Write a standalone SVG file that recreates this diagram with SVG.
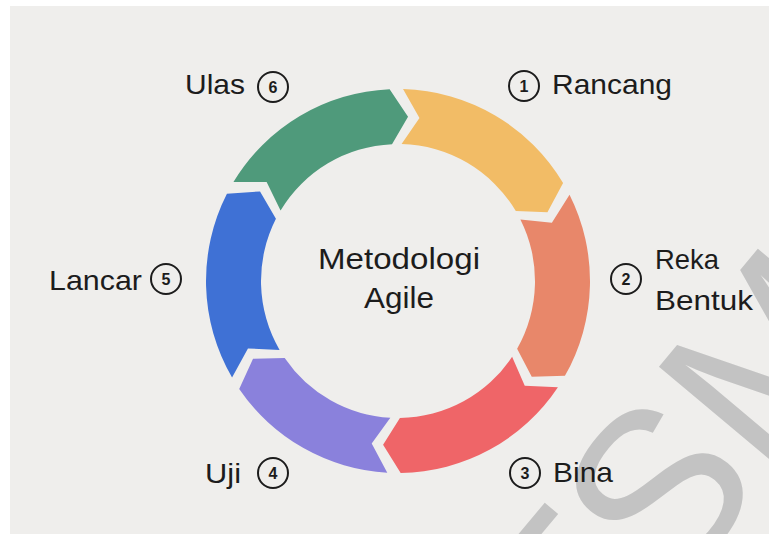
<svg xmlns="http://www.w3.org/2000/svg" width="769" height="534" viewBox="0 0 769 534">
<style>
.lbl{font-family:"Liberation Sans","DejaVu Sans",sans-serif;font-size:28px;fill:#1c1c1c}
.ctr{font-family:"Liberation Sans","DejaVu Sans",sans-serif;font-size:29px;fill:#1c1c1c;text-anchor:middle}
.num{font-family:"Liberation Sans","DejaVu Sans",sans-serif;font-size:16px;font-weight:bold;fill:#1c1c1c;text-anchor:middle}
.badge{fill:none;stroke:#1c1c1c;stroke-width:2}
.wm{font-family:"Liberation Sans","DejaVu Sans",sans-serif;font-size:230px;fill:#c3c3c3}
</style>
<rect x="0" y="0" width="769" height="534" fill="#ffffff"/>
<rect x="10" y="6" width="759" height="528" fill="#efeeec"/>
<g id="watermark">
<text class="wm" transform="translate(579,708) rotate(-50)">TSM</text>
</g>
<g id="connectors"></g>
<g id="seg-rancang">
<path fill="#f2bc66" d="M403.03,89.07 A192,192 0 0 1 563.09,182.98 L547.44,212.26 L515.80,211.06 A137,137 0 0 0 401.59,144.05 L419.47,117.91 Z"/>
</g>
<g id="seg-reka">
<path fill="#e8876a" d="M569.53,194.73 A192,192 0 0 1 564.94,375.84 L531.75,376.76 L517.12,348.67 A137,137 0 0 0 520.39,219.44 L551.88,222.85 Z"/>
</g>
<g id="seg-bina">
<path fill="#ef6568" d="M557.92,387.25 A192,192 0 0 1 400.68,472.98 L383.09,444.82 L399.91,417.99 A137,137 0 0 0 512.11,356.81 L524.75,385.86 Z"/>
</g>
<g id="seg-uji">
<path fill="#8a81dc" d="M387.28,472.70 A192,192 0 0 1 239.20,388.92 L253.03,358.73 L284.69,358.00 A137,137 0 0 0 390.35,417.79 L371.70,443.38 Z"/>
</g>
<g id="seg-lancar">
<path fill="#3f71d5" d="M232.06,377.58 A192,192 0 0 1 226.93,193.83 L260.04,191.41 L275.93,218.80 A137,137 0 0 0 279.60,349.91 L247.96,348.43 Z"/>
</g>
<g id="seg-ulas">
<path fill="#4f9a7b" d="M233.42,182.11 A192,192 0 0 1 389.63,89.18 L408.04,116.81 L392.02,144.13 A137,137 0 0 0 280.57,210.44 L266.62,182.0 Z"/>
</g>
<g id="center">
<text class="ctr" x="399" y="269" textLength="162" lengthAdjust="spacingAndGlyphs">Metodologi</text>
<text class="ctr" x="399" y="308" textLength="70" lengthAdjust="spacingAndGlyphs">Agile</text>
</g>
<g id="label-1">
<circle class="badge" cx="524" cy="86" r="15"/>
<text class="num" x="524" y="92">1</text>
<text class="lbl" x="552" y="94" textLength="120" lengthAdjust="spacingAndGlyphs">Rancang</text>
</g>
<g id="label-2">
<circle class="badge" cx="626" cy="279" r="15"/>
<text class="num" x="626" y="285">2</text>
<text class="lbl" x="655" y="269" textLength="64" lengthAdjust="spacingAndGlyphs">Reka</text>
<text class="lbl" x="655" y="310" textLength="98" lengthAdjust="spacingAndGlyphs">Bentuk</text>
</g>
<g id="label-3">
<circle class="badge" cx="525" cy="473" r="15"/>
<text class="num" x="525" y="479">3</text>
<text class="lbl" x="553" y="482" textLength="60" lengthAdjust="spacingAndGlyphs">Bina</text>
</g>
<g id="label-4">
<circle class="badge" cx="273" cy="473" r="15"/>
<text class="num" x="273" y="479">4</text>
<text class="lbl" x="205" y="483" textLength="36" lengthAdjust="spacingAndGlyphs">Uji</text>
</g>
<g id="label-5">
<circle class="badge" cx="166" cy="279" r="15"/>
<text class="num" x="166" y="285">5</text>
<text class="lbl" x="49" y="290" textLength="93" lengthAdjust="spacingAndGlyphs">Lancar</text>
</g>
<g id="label-6">
<circle class="badge" cx="273" cy="87" r="15"/>
<text class="num" x="273" y="93">6</text>
<text class="lbl" x="185" y="94" textLength="60" lengthAdjust="spacingAndGlyphs">Ulas</text>
</g>
</svg>
